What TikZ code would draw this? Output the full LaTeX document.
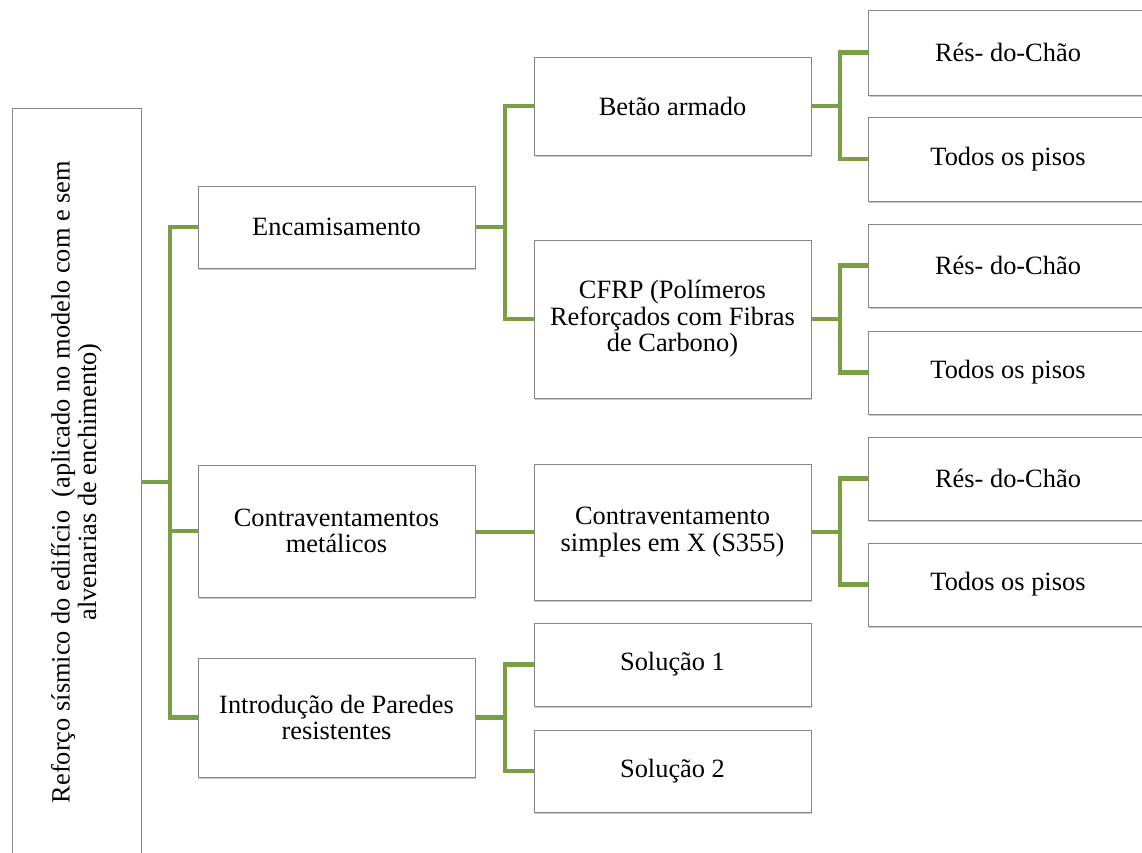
\documentclass[tikz,border=0pt]{standalone}
\usepackage{fontspec}
\setmainfont{Liberation Serif}
\usetikzlibrary{shadows}
\definecolor{branch}{RGB}{122,158,66}
\definecolor{boxline}{RGB}{135,135,135}
\tikzset{
  box/.style={rectangle, draw=boxline, line width=0.9pt, fill=white,
    inner sep=0pt, align=center,
    drop shadow={shadow xshift=1.2pt, shadow yshift=-1.6pt, opacity=0.35, fill=black!60},
    font=\fontsize{26.4}{26.5}\selectfont},
  colA/.style={box, minimum width=277pt},
  colB/.style={box, minimum width=277pt},
  colC/.style={box, minimum width=280pt},
  conn/.style={draw=branch, line width=4.6pt, line join=miter}
}
\begin{document}
\begin{tikzpicture}[x=1pt,y=-1pt]
\useasboundingbox (0,0) rectangle (1142,852);
\clip (0,0) rectangle (1142,852);
\fill[white] (0,0) rectangle (1142,852);

% root (text runs upwards)
\node[box, rotate=90, minimum width=748pt, minimum height=129pt] (root) at (76.5,482)
  {Reforço sísmico do edifício\ \ (aplicado no modelo com e sem\\alvenarias de enchimento)};

% first level
\node[colA, minimum height=82pt]  (enc)   at (336.5,227)   {Encamisamento};
\node[colA, minimum height=132pt] (contr) at (336.5,531)   {Contraventamentos\\metálicos};
\node[colA, minimum height=119pt] (intro) at (336.5,717.5) {Introdução de Paredes\\resistentes};

% second level
\node[colB, minimum height=98pt]  (betao) at (672.5,106)   {Betão armado};
\node[colB, minimum height=158pt] (cfrp)  at (672.5,319)   {CFRP (Polímeros\\Reforçados com Fibras\\de Carbono)};
\node[colB, minimum height=136pt] (ctrx)  at (672.5,532)   {Contraventamento\\simples em X (S355)};
\node[colB, minimum height=83pt]  (sol1)  at (672.5,664.5) {Solução 1};
\node[colB, minimum height=82pt]  (sol2)  at (672.5,771)   {Solução 2};

% third level
\node[colC, minimum height=85pt] (rc1) at (1008,52.5)  {Rés- do-Chão};
\node[colC, minimum height=84pt] (tp1) at (1008,159)   {Todos os pisos};
\node[colC, minimum height=83pt] (rc2) at (1008,265.5) {Rés- do-Chão};
\node[colC, minimum height=83pt] (tp2) at (1008,372.5) {Todos os pisos};
\node[colC, minimum height=83pt] (rc3) at (1008,478.5) {Rés- do-Chão};
\node[colC, minimum height=83pt] (tp3) at (1008,584.5) {Todos os pisos};

% bus lines
\coordinate (b1) at (170,0);
\coordinate (b2) at (505,0);
\coordinate (b3) at (840,0);

\draw[conn] (root.south) -- (b1 |- root.south);
\draw[conn] (enc.west) -| (b1 |- intro.west) -- (intro.west);
\draw[conn] (b1 |- contr.west) -- (contr.west);

\draw[conn] (enc.east) -- (b2 |- enc.east);
\draw[conn] (betao.west) -| (b2 |- cfrp.west) -- (cfrp.west);
\draw[conn] (contr.east |- ctrx.west) -- (ctrx.west);
\draw[conn] (intro.east) -- (b2 |- intro.east);
\draw[conn] (sol1.west) -| (b2 |- sol2.west) -- (sol2.west);

\draw[conn] (betao.east) -- (b3 |- betao.east);
\draw[conn] (rc1.west) -| (b3 |- tp1.west) -- (tp1.west);
\draw[conn] (cfrp.east) -- (b3 |- cfrp.east);
\draw[conn] (rc2.west) -| (b3 |- tp2.west) -- (tp2.west);
\draw[conn] (ctrx.east) -- (b3 |- ctrx.east);
\draw[conn] (rc3.west) -| (b3 |- tp3.west) -- (tp3.west);
\end{tikzpicture}
\end{document}
